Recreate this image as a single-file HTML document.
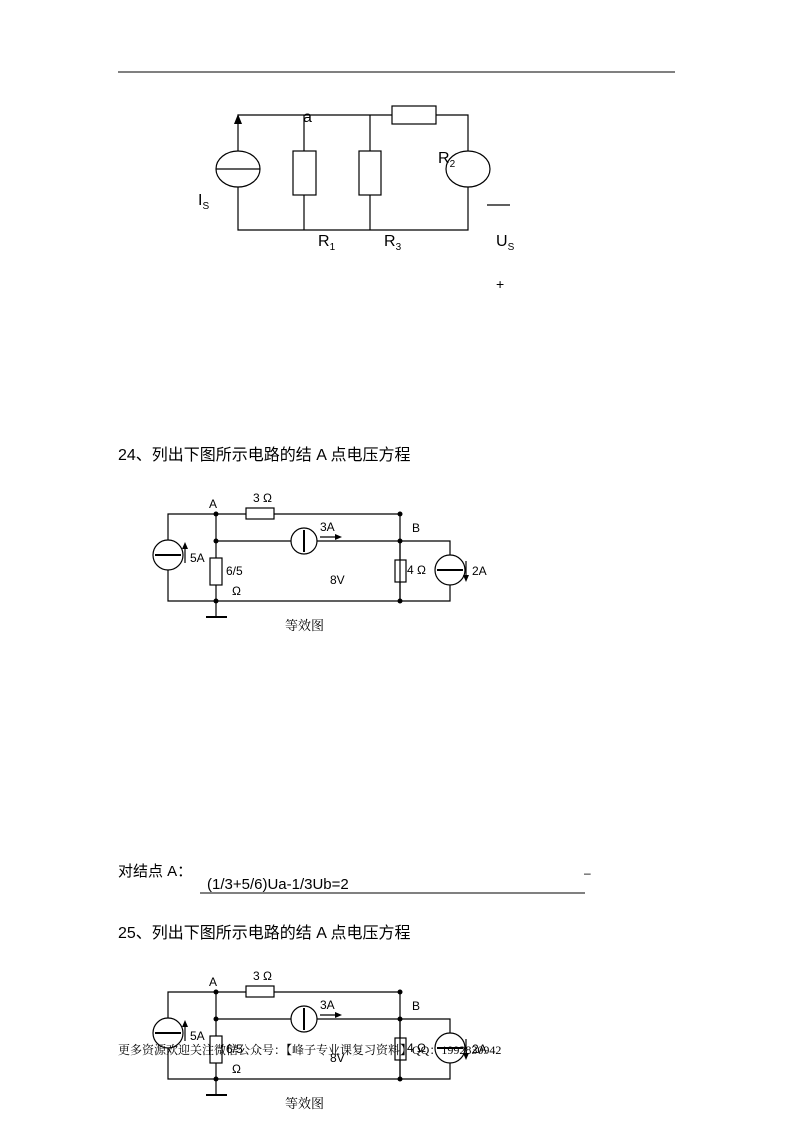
<!DOCTYPE html>
<html><head><meta charset="utf-8"><style>
body{margin:0;background:#fff;width:793px;height:1122px;position:relative;overflow:hidden;font-family:"Liberation Sans","Noto Sans CJK SC",sans-serif}
.t{position:absolute;white-space:nowrap;color:#000}
.s{font-size:12px}
svg{position:absolute;left:0;top:0}
</style></head><body>
<svg width="793" height="1122" viewBox="0 0 793 1122" fill="none" stroke="#000">
<line x1="118" y1="72" x2="675" y2="72" stroke-width="1"/>
<g stroke-width="1.2">
<path d="M238 151V115H392M436 115H468V151M468 187V230H238V187"/>
<line x1="304" y1="115" x2="304" y2="151"/><rect x="293" y="151" width="23" height="44"/><line x1="304" y1="195" x2="304" y2="230"/>
<line x1="370" y1="115" x2="370" y2="151"/><rect x="359" y="151" width="22" height="44"/><line x1="370" y1="195" x2="370" y2="230"/>
<rect x="392" y="106" width="44" height="18"/>
<ellipse cx="238" cy="169" rx="22" ry="18"/><line x1="216" y1="169" x2="260" y2="169"/>
<ellipse cx="468" cy="169" rx="22" ry="18"/>
<line x1="487" y1="205" x2="510" y2="205"/>
</g>
<polygon points="238,114 234,124 242,124" fill="#000" stroke="none"/>
<g id="c">
<g stroke-width="1.2">
<path d="M168 540V514H246M274 514H400V601H168V570"/>
<line x1="216" y1="514" x2="216" y2="558"/><rect x="210" y="558" width="12" height="27"/><line x1="216" y1="585" x2="216" y2="617"/>
<line x1="206" y1="617" x2="227" y2="617" stroke-width="2"/>
<rect x="246" y="508" width="28" height="11"/>
<path d="M216 541H291M317 541H450V555M450 585V601H400"/>
<circle cx="304" cy="541" r="13"/><line x1="304" y1="530" x2="304" y2="552" stroke-width="2"/>
<line x1="400" y1="541" x2="400" y2="560"/><rect x="395" y="560" width="11" height="22"/><line x1="400" y1="582" x2="400" y2="601"/>
<circle cx="168" cy="555" r="15"/><line x1="155" y1="555" x2="181" y2="555" stroke-width="2"/>
<circle cx="450" cy="570" r="15"/><line x1="437" y1="570" x2="463" y2="570" stroke-width="2"/>
<line x1="185" y1="563" x2="185" y2="546"/><line x1="466" y1="561" x2="466" y2="578"/>
<line x1="320" y1="537" x2="338" y2="537"/>
</g>
<g fill="#000" stroke="none">
<polygon points="185,542 182,549 188,549"/><polygon points="466,582 463,575 469,575"/><polygon points="342,537 335,534 335,540"/>
<circle cx="216" cy="514" r="2.5"/><circle cx="400" cy="514" r="2.5"/><circle cx="216" cy="541" r="2.5"/><circle cx="400" cy="541" r="2.5"/><circle cx="216" cy="601" r="2.5"/><circle cx="400" cy="601" r="2.5"/>
</g>
</g>
<use href="#c" transform="translate(0,478)"/>
<line x1="200" y1="893" x2="585" y2="893" stroke-width="1"/>
</svg>
<div class="t" style="left:303px;top:109px;font-size:16px">a</div>
<div class="t" style="left:438px;top:150px;font-size:16px">R<sub style="font-size:10px">2</sub></div>
<div class="t" style="left:198px;top:192px;font-size:16px">I<sub style="font-size:10px">S</sub></div>
<div class="t" style="left:318px;top:233px;font-size:16px">R<sub style="font-size:10px">1</sub></div>
<div class="t" style="left:384px;top:233px;font-size:16px">R<sub style="font-size:10px">3</sub></div>
<div class="t" style="left:496px;top:233px;font-size:16px">U<sub style="font-size:10px">S</sub></div>
<div class="t" style="left:496px;top:276px;font-size:14px">+</div>
<div class="t" style="left:118px;top:441px;font-size:16px">24、列出下图所示电路的结 A 点电压方程</div>
<div style="position:absolute;left:0;top:0;width:793px">
<div class="t s" style="left:209px;top:497px">A</div>
<div class="t s" style="left:253px;top:491px">3 Ω</div>
<div class="t s" style="left:320px;top:520px">3A</div>
<div class="t s" style="left:412px;top:521px">B</div>
<div class="t s" style="left:190px;top:551px">5A</div>
<div class="t s" style="left:226px;top:564px">6/5</div>
<div class="t s" style="left:330px;top:573px">8V</div>
<div class="t s" style="left:407px;top:563px">4 Ω</div>
<div class="t s" style="left:472px;top:564px">2A</div>
<div class="t s" style="left:232px;top:584px">Ω</div>
<div class="t" style="left:285px;top:615px;font-size:13px;font-family:'Noto Serif CJK SC',serif">等效图</div>
</div>
<div class="t" style="left:118px;top:860px;font-size:15px">对结点 A：</div>
<div class="t" style="left:207px;top:876px;font-size:15px">(1/3+5/6)Ua-1/3Ub=2</div>
<div class="t" style="left:584px;top:866px;font-size:12px">–</div>
<div class="t" style="left:118px;top:919px;font-size:16px">25、列出下图所示电路的结 A 点电压方程</div>
<div style="position:absolute;left:0;top:478px;width:793px">
<div class="t s" style="left:209px;top:497px">A</div>
<div class="t s" style="left:253px;top:491px">3 Ω</div>
<div class="t s" style="left:320px;top:520px">3A</div>
<div class="t s" style="left:412px;top:521px">B</div>
<div class="t s" style="left:190px;top:551px">5A</div>
<div class="t s" style="left:226px;top:564px">6/5</div>
<div class="t s" style="left:330px;top:573px">8V</div>
<div class="t s" style="left:407px;top:563px">4 Ω</div>
<div class="t s" style="left:472px;top:564px">2A</div>
<div class="t s" style="left:232px;top:584px">Ω</div>
<div class="t" style="left:285px;top:615px;font-size:13px;font-family:'Noto Serif CJK SC',serif">等效图</div>
</div>
<div class="t" style="left:118px;top:1041px;font-size:12px;font-family:'Liberation Serif','Noto Serif CJK SC',serif">更多资源欢迎关注微信公众号：【峰子专业课复习资料】QQ：1992830942</div>
</body></html>
